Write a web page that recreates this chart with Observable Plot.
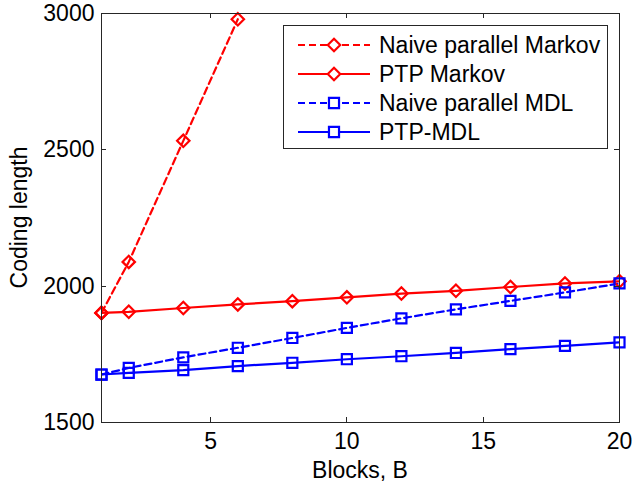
<!DOCTYPE html>
<html><head><meta charset="utf-8">
<script src="https://cdn.jsdelivr.net/npm/d3@7"></script>
<script src="https://cdn.jsdelivr.net/npm/@observablehq/plot@0.6"></script>
<style>body{margin:0;background:#fff;} #chart{width:633px;height:482px;}</style>
</head><body><div id="chart"></div>
<script>
const blocks = [1,2,4,6,8,10,12,14,16,18,20];
const naiveMarkovBlocks = [1,2,4,6];
const naiveMarkov = [1902,2089,2533,2979];
const ptpMarkov = [1902,1906,1920,1933,1945,1959,1973,1983,1997,2010,2018];
const naiveMDL = [1676,1700,1739,1774,1810,1847,1882,1915,1946,1977,2010];
const ptpMDL = [1676,1682,1692,1707,1719,1732,1743,1755,1769,1781,1794];
const xTicks = [5,10,15,20];
const yTicks = [1500,2000,2500,3000];
const seriesNames = ["Naive parallel Markov","PTP Markov","Naive parallel MDL","PTP-MDL"];
const xLabel = "Blocks, B";
const yLabel = "Coding length";

const seriesDefs = [
  {name: seriesNames[0], xs: naiveMarkovBlocks, ys: naiveMarkov, color: "#ff0000", dash: "7,4", symbol: "diamond2", r: 5.6},
  {name: seriesNames[1], xs: blocks, ys: ptpMarkov, color: "#ff0000", dash: null, symbol: "diamond2", r: 5.6},
  {name: seriesNames[2], xs: blocks, ys: naiveMDL, color: "#0000ff", dash: "7,4", symbol: "square2", r: 6.4},
  {name: seriesNames[3], xs: blocks, ys: ptpMDL, color: "#0000ff", dash: null, symbol: "square2", r: 6.4}
];

const marks = [];
for (const s of seriesDefs) {
  const data = s.xs.map((x, i) => ({x, y: s.ys[i]}));
  marks.push(Plot.line(data, {x: "x", y: "y", stroke: s.color, strokeWidth: 2.2, strokeDasharray: s.dash, clip: true}));
}
for (const s of seriesDefs) {
  const data = s.xs.map((x, i) => ({x, y: s.ys[i]}));
  marks.push(Plot.dot(data, {x: "x", y: "y", stroke: s.color, strokeWidth: 2.2, fill: "none", symbol: s.symbol, r: s.r}));
}
marks.push(Plot.frame({stroke: "#262626"}));
marks.push(Plot.axisX({ticks: xTicks, tickSize: 0, tickPadding: 10, tickFormat: "d", label: null, fill: "#000"}));
marks.push(Plot.axisY({ticks: yTicks, tickSize: 0, tickPadding: 7, tickFormat: "d", label: null, fill: "#000"}));

const fig = Plot.plot({
  width: 633, height: 482,
  marginLeft: 101, marginRight: 14, marginTop: 13, marginBottom: 60,
  x: {domain: [1, 20]},
  y: {domain: [1500, 3000]},
  style: {fontFamily: "'Liberation Sans', Arial, sans-serif", fontSize: "23px", background: "#fff", color: "#000"},
  marks
});
document.getElementById("chart").appendChild(fig);

const svg = d3.select(fig);
const xs = fig.scale("x"), ys = fig.scale("y");
const L = 101, R = 633 - 14, T = 13, B = 482 - 60;
const tk = 5;
const gt = svg.append("g").attr("stroke", "#262626").attr("stroke-width", 1);
for (const t of xTicks) {
  const px = Math.round(xs.apply(t)) + 0.5;
  if (px > R - 2) continue;
  gt.append("line").attr("x1", px).attr("x2", px).attr("y1", B).attr("y2", B - tk);
  gt.append("line").attr("x1", px).attr("x2", px).attr("y1", T).attr("y2", T + tk);
}
for (const t of yTicks) {
  const py = Math.round(ys.apply(t)) + 0.5;
  if (py < T + 2 || py > B - 2) continue;
  gt.append("line").attr("x1", L).attr("x2", L + tk).attr("y1", py).attr("y2", py);
  gt.append("line").attr("x1", R).attr("x2", R - tk).attr("y1", py).attr("y2", py);
}

// axis titles
svg.append("text").attr("x", (L + R) / 2).attr("y", 478).attr("text-anchor", "middle")
  .attr("font-size", 23).attr("fill", "#000").text(xLabel);
svg.append("text").attr("transform", `translate(27,${(T + B) / 2}) rotate(-90)`).attr("text-anchor", "middle")
  .attr("font-size", 23).attr("fill", "#000").text(yLabel);

// legend
const lg = svg.append("g");
lg.append("rect").attr("x", 283.5).attr("y", 25.5).attr("width", 324).attr("height", 123)
  .attr("fill", "#fff").attr("stroke", "#262626");
seriesDefs.forEach((s, i) => {
  const cy = 45 + i * 29;
  lg.append("line").attr("x1", 298).attr("x2", 370).attr("y1", cy).attr("y2", cy)
    .attr("stroke", s.color).attr("stroke-width", 2.2).attr("stroke-dasharray", s.dash);
  const sym = s.symbol === "diamond2" ? d3.symbolDiamond2 : d3.symbolSquare2;
  lg.append("path").attr("d", d3.symbol(sym, Math.PI * s.r * s.r)())
    .attr("transform", `translate(334,${cy})`).attr("fill", "#fff").attr("stroke", s.color).attr("stroke-width", 2.2);
  lg.append("text").attr("x", 379).attr("y", cy + 8).attr("text-anchor", "start")
    .attr("font-size", 23).attr("fill", "#000").text(s.name);
});
</script>
</body></html>
